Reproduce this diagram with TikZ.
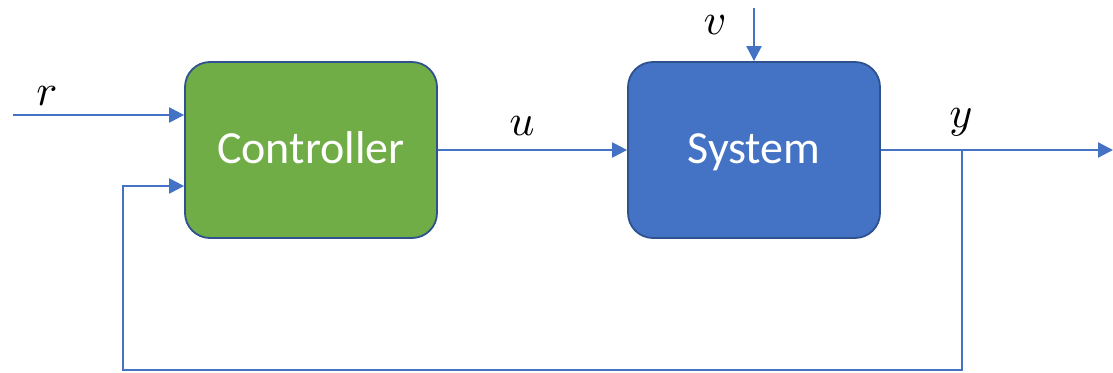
\documentclass[tikz,border=0pt]{standalone}
\usepackage{graphicx}
\usepackage{fontspec}
\newfontfamily\boxfont{Carlito}
\usetikzlibrary{arrows.meta}
\definecolor{lineblue}{HTML}{4472C4}
\definecolor{ctrlgreen}{HTML}{70AD47}
\definecolor{sysblue}{HTML}{4472C4}
\definecolor{sysedge}{HTML}{2F528F}
\newcommand{\biglbl}[1]{\scalebox{4.4}{$#1$}}
\tikzset{
  blockbox/.style={rounded corners=25pt, minimum width=252pt, minimum height=176pt,
    inner sep=0pt, line width=1.8pt, text=white, text height=36pt, text depth=10pt,
    font=\boxfont\fontsize{46}{52}\selectfont},
  sig/.style={draw=lineblue, line width=2.2pt},
  arr/.style={sig, -{Triangle[length=15pt,width=15pt]}},
  lbl/.style={inner sep=0pt, anchor=base}
}
\begin{document}
\begin{tikzpicture}[x=1pt,y=-1pt]
\useasboundingbox (0,0) rectangle (1113,372);
\node[blockbox, fill=ctrlgreen, draw=sysedge] (ctrl) at (311,150) {Controller};
\node[blockbox, fill=sysblue, draw=sysedge] (sys) at (754,150) {System};
\coordinate (rin) at (13,115);
\coordinate (vin) at (754,8);
\coordinate (yb) at (962,150);
\coordinate (yout) at (1113,150);
\coordinate (fbr) at (962,370);
\coordinate (fbl) at (123,370);
\coordinate (fbt) at (123,186);
\draw[arr] (rin) -- (ctrl.west |- rin);
\draw[arr] (ctrl.east |- yb) -- (sys.west |- yb);
\draw[arr] (vin) -- (sys.north);
\draw[arr] (sys.east |- yb) -- (yout);
\draw[arr] (yb) -- (fbr) -- (fbl) -- (fbt) -- (ctrl.west |- fbt);
\node[lbl] (rl) at (47,105) {\biglbl{r}};
\node[lbl] (ul) at (522,135) {\biglbl{u}};
\node[lbl] (vl) at (715,34) {\biglbl{v}};
\node[lbl] (yl) at (961,127) {\biglbl{y}};
\end{tikzpicture}
\end{document}
